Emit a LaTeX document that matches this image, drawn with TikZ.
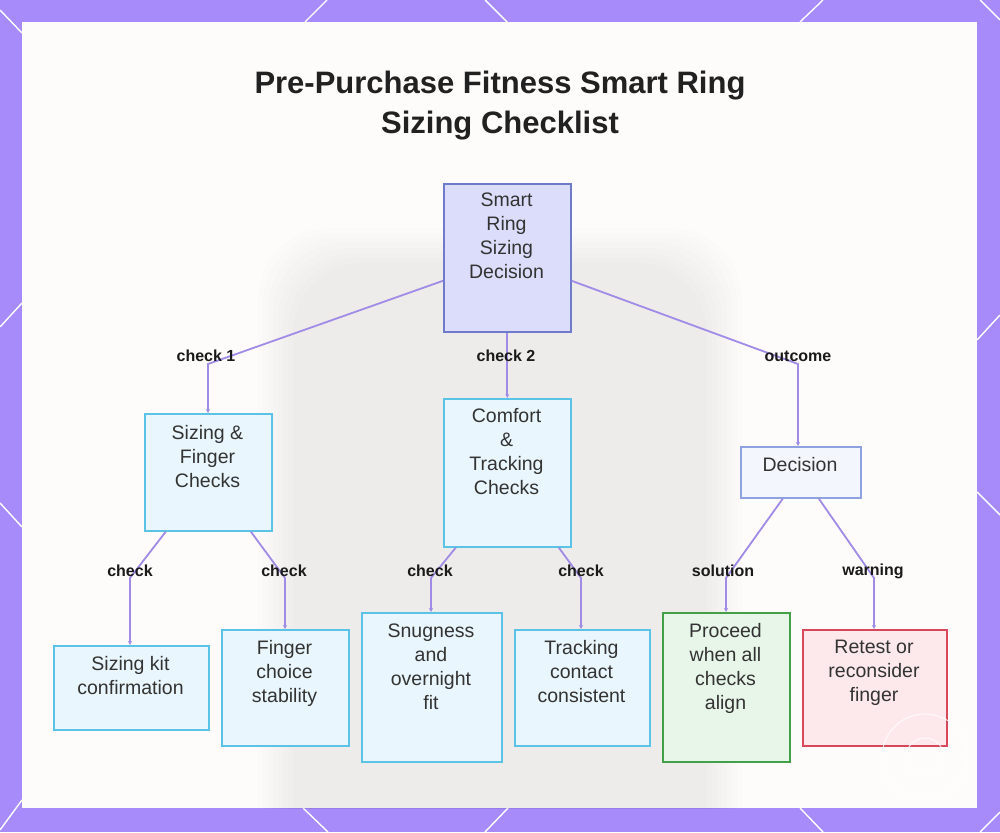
\documentclass[tikz,border=0pt]{standalone}
\usepackage{fontspec}
\setmainfont{Liberation Sans}
\usetikzlibrary{arrows.meta}
\definecolor{framec}{HTML}{A78BFA}
\definecolor{panelc}{HTML}{FDFCFB}
\definecolor{edgec}{HTML}{A08BE6}
\definecolor{rootfill}{HTML}{DCDDFB}
\definecolor{rootdraw}{HTML}{6E7BC8}
\definecolor{cyfill}{HTML}{E9F6FD}
\definecolor{cydraw}{HTML}{5BC3E6}
\definecolor{decfill}{HTML}{F4F6FE}
\definecolor{decdraw}{HTML}{8DA2DF}
\definecolor{grfill}{HTML}{E8F5E9}
\definecolor{grdraw}{HTML}{43A047}
\definecolor{rdfill}{HTML}{FDE9EC}
\definecolor{rddraw}{HTML}{D9475B}
\definecolor{txtc}{HTML}{333333}
\definecolor{lblc}{HTML}{1A1A1A}
\tikzset{
  box/.style={rectangle, line width=1.6pt, inner sep=0pt, anchor=north west},
  rootbox/.style={box, fill=rootfill, draw=rootdraw},
  cybox/.style={box, fill=cyfill, draw=cydraw},
  decbox/.style={box, fill=decfill, draw=decdraw},
  grbox/.style={box, fill=grfill, draw=grdraw},
  rdbox/.style={box, fill=rdfill, draw=rddraw},
  ntxt/.style={anchor=north, inner sep=0pt, align=center, text=txtc, font=\fontsize{19.5}{24}\selectfont},
  elbl/.style={inner sep=0pt, text=lblc, font=\fontsize{16}{18}\selectfont\bfseries},
  edge/.style={draw=edgec, line width=1.8pt, -{Stealth[length=4pt,width=4pt]}},
  deco/.style={draw=white, line width=1.4pt},
  ttl/.style={anchor=north, inner sep=0pt, align=center, text=black!87, font=\fontsize{31}{40}\selectfont\bfseries}
}
\begin{document}
\begin{tikzpicture}[x=1pt,y=-1pt]
\useasboundingbox (0,0) rectangle (1000,832);
% frame
\fill[framec] (0,0) rectangle (1000,832);
\draw[deco] (0,10) -- (22,33);
\draw[deco] (305,22) -- (327,0);
\draw[deco] (485,0) -- (507,22);
\draw[deco] (800,22) -- (823,0);
\draw[deco] (980,0) -- (1000,20);
\draw[deco] (0,327) -- (22,303);
\draw[deco] (0,503) -- (22,527);
\draw[deco] (0,830) -- (22,800);
\draw[deco] (977,340) -- (1000,315);
\draw[deco] (977,492) -- (1000,515);
\draw[deco] (303,808) -- (328,832);
\draw[deco] (508,808) -- (485,832);
\draw[deco] (800,808) -- (823,832);
\draw[deco] (980,832) -- (1000,812);
% panel
\fill[panelc] (22,22) rectangle (977,808);
\begin{scope}
  \clip (22,22) rectangle (977,808);
  \foreach \i in {0,...,7} {
    \fill[black, opacity=0.008, rounded corners=70pt]
      (258+5*\i,228+5*\i) rectangle (742-5*\i,900);
  }
\end{scope}
% title
\node[ttl] (title) at (500,71) {Pre-Purchase Fitness Smart Ring\\Sizing Checklist};
% boxes
\node[rootbox, minimum width=127pt, minimum height=148pt] (root) at (443,183) {};
\node[ntxt] (rootT) at (506.5,193) {Smart\\Ring\\Sizing\\Decision};
\node[cybox, minimum width=127pt, minimum height=117pt] (sf) at (144,413) {};
\node[ntxt] (sfT) at (207.5,425) {Sizing \&\\Finger\\Checks};
\node[cybox, minimum width=127pt, minimum height=148pt] (ct) at (443,398) {};
\node[ntxt] (ctT) at (506.5,408) {Comfort\\\&\\Tracking\\Checks};
\node[decbox, minimum width=120pt, minimum height=51pt] (dec) at (740,446) {};
\node[ntxt] (decT) at (800,457) {Decision};
\node[cybox, minimum width=155pt, minimum height=84pt] (kit) at (53,645) {};
\node[ntxt] (kitT) at (130.5,656) {Sizing kit\\confirmation};
\node[cybox, minimum width=127pt, minimum height=116pt] (fcs) at (221,629) {};
\node[ntxt] (fcsT) at (284.5,640) {Finger\\choice\\stability};
\node[cybox, minimum width=140pt, minimum height=149pt] (snug) at (361,612) {};
\node[ntxt] (snugT) at (431,624) {Snugness\\and\\overnight\\fit};
\node[cybox, minimum width=135pt, minimum height=116pt] (track) at (514,629) {};
\node[ntxt] (trackT) at (581.5,640) {Tracking\\contact\\consistent};
\node[grbox, minimum width=127pt, minimum height=149pt] (proc) at (662,612) {};
\node[ntxt] (procT) at (725.5,623) {Proceed\\when all\\checks\\align};
\node[rdbox, minimum width=144pt, minimum height=116pt] (ret) at (802,629) {};
\node[ntxt] (retT) at (874,640) {Retest or\\reconsider\\finger};
% watermark circles
\draw[white, line width=0.9pt, opacity=0.85] (925,757) circle (43);
\draw[white, line width=0.9pt, opacity=0.85] (925,757) circle (19);
% bend coordinates
\coordinate (b1) at (208,364);
\coordinate (b3) at (798,364);
\coordinate (b4) at (130,578);
\coordinate (b5) at (285,578);
\coordinate (b6) at (431,578);
\coordinate (b7) at (581,578);
\coordinate (b8) at (726,578);
\coordinate (b9) at (874,578);
% edges
\draw[edge] ([yshift=-23pt]root.west) -- (b1) -- (b1 |- sf.north);
\draw[edge] (root.south) -- (ct.north);
\draw[edge] ([yshift=-23pt]root.east) -- (b3) -- (b3 |- dec.north);
\draw[edge] ([xshift=-42.5pt]sf.south) -- (b4) -- (b4 |- kit.north);
\draw[edge] ([xshift=42.5pt]sf.south) -- (b5) -- (b5 |- fcs.north);
\draw[edge] ([xshift=-51.5pt]ct.south) -- (b6) -- (b6 |- snug.north);
\draw[edge] ([xshift=51.5pt]ct.south) -- (b7) -- (b7 |- track.north);
\draw[edge] ([xshift=-18pt]dec.south) -- (b8) -- (b8 |- proc.north);
\draw[edge] ([xshift=18pt]dec.south) -- (b9) -- (b9 |- ret.north);
% labels
\node[elbl] (l1) at (206,356) {check 1};
\node[elbl] (l2) at (506,356) {check 2};
\node[elbl] (l3) at (798,356) {outcome};
\node[elbl] (l4) at (130,571) {check};
\node[elbl] (l5) at (284,571) {check};
\node[elbl] (l6) at (430,571) {check};
\node[elbl] (l7) at (581,571) {check};
\node[elbl] (l8) at (723,571) {solution};
\node[elbl] (l9) at (873,571) {warning};
\end{tikzpicture}
\end{document}
